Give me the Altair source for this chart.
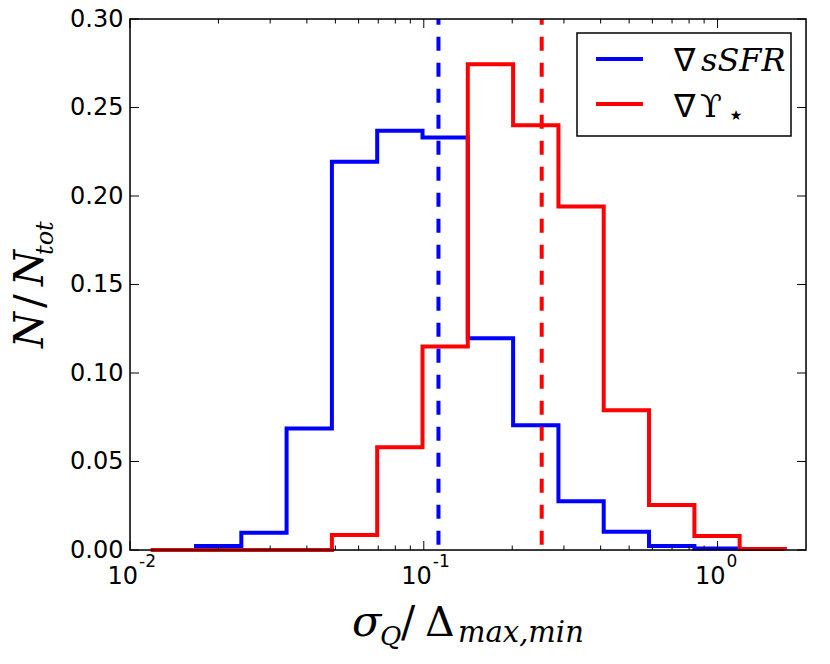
import altair as alt
import pandas as pd

# ---- data ----
edges = [0.01176, 0.01678, 0.02393, 0.03412, 0.04867, 0.06941, 0.09901, 0.1412,
         0.2014, 0.2873, 0.4097, 0.5844, 0.8340, 1.189, 1.696]
blue_edges = edges[1:14]
blue_heights = [0.0023, 0.0098, 0.0686, 0.2194, 0.2369, 0.2331, 0.1197, 0.0705,
                0.0276, 0.0103, 0.0023, 0.0008]
red_edges = edges
red_heights = [0.0, 0.0, 0.0, 0.0, 0.0085, 0.058, 0.115, 0.2745, 0.240, 0.194,
               0.079, 0.0254, 0.0079, 0.0005]
blue_median = 0.1122
red_median = 0.252
x_major = [0.01, 0.1, 1.0]
x_exponents = ["-2", "-1", "0"]
x_minor = [0.02, 0.03, 0.04, 0.05, 0.06, 0.07, 0.08, 0.09,
           0.2, 0.3, 0.4, 0.5, 0.6, 0.7, 0.8, 0.9]
y_ticks = [0.0, 0.05, 0.10, 0.15, 0.20, 0.25, 0.30]

W, H = 676, 531
BLUE, RED = "#0000ff", "#ff0000"
SERIF = "DejaVu Serif"


def step_frame(e, h):
    xs = [e[0]] + [e[i] for i in range(len(h))] + [e[len(h)]]
    ys = [0.0] + list(h) + [0.0]
    return pd.DataFrame({"x": xs, "y": ys, "o": list(range(len(xs)))})


xscale = alt.Scale(type="log", domain=[0.01, 2.0], nice=False)
yscale = alt.Scale(domain=[0.0, 0.30], nice=False, zero=False)
yaxis = alt.Axis(values=y_ticks, format=".2f", labelFont="DejaVu Sans",
                 labelFontSize=24, labelColor="black", labelPadding=7,
                 ticks=False, tickSize=0, domain=False, grid=False, title=None,
                 labelOverlap=False)
X = alt.X("x:Q", scale=xscale, axis=None)
Y = alt.Y("y:Q", scale=yscale, axis=yaxis)

layers = []

for e, h, c in [(blue_edges, blue_heights, BLUE), (red_edges, red_heights, RED)]:
    layers.append(
        alt.Chart(step_frame(e, h))
        .mark_line(interpolate="step-after", color=c, strokeWidth=4,
                   strokeJoin="miter", strokeCap="butt")
        .encode(x=X, y=Y, order="o:Q")
    )

for v, c in [(blue_median, BLUE), (red_median, RED)]:
    layers.append(
        alt.Chart(pd.DataFrame({"x": [v]}))
        .mark_rule(color=c, strokeWidth=4, strokeDash=[14, 12], strokeDashOffset=20.7)
        .encode(x=X, y=alt.value(H), y2=alt.value(0))
    )

one = alt.Data(values=[{}])

# frame
layers.append(
    alt.Chart(one).mark_rect(fill="transparent", stroke="black", strokeWidth=1.5)
    .encode(x=alt.value(0), x2=alt.value(W), y=alt.value(0), y2=alt.value(H))
)

# inward ticks on all four sides
maj = pd.DataFrame({"x": x_major})
mnr = pd.DataFrame({"x": x_minor})
yt = pd.DataFrame({"y": y_ticks})
tick = dict(color="black", strokeWidth=1)
layers += [
    alt.Chart(maj).mark_rule(**tick).encode(x=X, y=alt.value(H), y2=alt.value(H - 9)),
    alt.Chart(maj).mark_rule(**tick).encode(x=X, y=alt.value(0), y2=alt.value(9)),
    alt.Chart(mnr).mark_rule(**tick).encode(x=X, y=alt.value(H), y2=alt.value(H - 4.5)),
    alt.Chart(mnr).mark_rule(**tick).encode(x=X, y=alt.value(0), y2=alt.value(4.5)),
    alt.Chart(yt).mark_rule(**tick).encode(y=Y, x=alt.value(0), x2=alt.value(9)),
    alt.Chart(yt).mark_rule(**tick).encode(y=Y, x=alt.value(W), x2=alt.value(W - 9)),
]

# x tick labels 10^n
xl = pd.DataFrame({"x": x_major, "e": x_exponents})
layers += [
    alt.Chart(xl).mark_text(text="10", align="right", dx=8, baseline="alphabetic",
                            font="DejaVu Sans", fontSize=24, color="black")
    .encode(x=X, y=alt.value(H + 33.5)),
    alt.Chart(xl).mark_text(align="left", dx=9, baseline="alphabetic",
                            font="DejaVu Sans", fontSize=17, color="black")
    .encode(x=X, y=alt.value(H + 17), text="e:N"),
]


def txt(s, x, y, size, font=SERIF, style="normal", angle=0, align="left",
        baseline="alphabetic", color="black"):
    kw = dict(text=s, font=font, fontSize=size, fontStyle=style, align=align,
              baseline=baseline, color=color)
    if angle:
        kw["angle"] = angle
    return alt.Chart(one).mark_text(**kw).encode(x=alt.value(x), y=alt.value(y))


# legend
layers += [
    alt.Chart(one).mark_rect(fill="white", stroke="black", strokeWidth=1.5)
    .encode(x=alt.value(447), x2=alt.value(661), y=alt.value(14), y2=alt.value(117)),
    alt.Chart(one).mark_rule(color=BLUE, strokeWidth=4)
    .encode(x=alt.value(466), x2=alt.value(513), y=alt.value(40)),
    alt.Chart(one).mark_rule(color=RED, strokeWidth=4)
    .encode(x=alt.value(466), x2=alt.value(513), y=alt.value(85)),
    txt("∇", 544, 52, 32, font="DejaVu Sans"),
    txt("sSFR", 571, 52, 32, style="italic"),
    txt("∇", 544, 98, 32, font="DejaVu Sans"),
    txt("ϒ", 570, 98, 32),
    txt("★", 606, 97, 14, font="DejaVu Sans", align="center", baseline="middle"),
]

# x title: sigma_Q / Delta_{max,min}
layers += [
    txt("σ", 222, 617, 43, style="italic"),
    txt("Q", 250, 626, 26, style="italic"),
    txt("/", 271, 617, 42),
    txt("Δ", 295, 617, 41),
    txt("max,min", 328, 623, 29, style="italic"),
]

# y title: N / N_tot (rotated)
yb = 329
layers += [
    txt("N", -87, yb, 41, style="italic", angle=270),
    txt("/", -87, yb - 40, 41, angle=270),
    txt("N", -87, yb - 62, 41, style="italic", angle=270),
    txt("tot", -77, yb - 93, 24, style="italic", angle=270),
]

chart = (
    alt.layer(*layers)
    .properties(width=W, height=H, padding={"left": 122, "top": 11, "right": 10, "bottom": 110},
                autosize=alt.AutoSizeParams(type="none"))
    .configure_view(strokeWidth=0)
    .configure(background="white")
)

chart.save("out.html", embed_options={"renderer": "svg", "actions": False})
